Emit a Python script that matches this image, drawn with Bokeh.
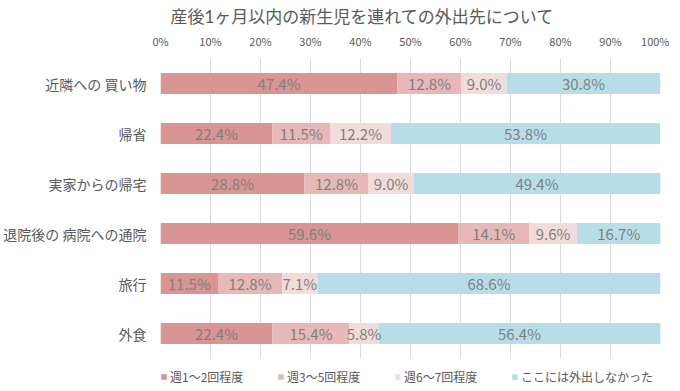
from bokeh.plotting import figure
from bokeh.layouts import column
from bokeh.models import ColumnDataSource, FactorRange, Legend, LegendItem, FixedTicker, CustomJSTickFormatter
from bokeh.core.properties import value
from bokeh.embed import file_html
from bokeh.resources import INLINE

categories = ["近隣への 買い物", "帰省", "実家からの帰宅", "退院後の 病院への通院", "旅行", "外食"]
series = ["週1～2回程度", "週3～5回程度", "週6～7回程度", "ここには外出しなかった"]
s1 = [47.4, 22.4, 28.8, 59.6, 11.5, 22.4]
s2 = [12.8, 11.5, 12.8, 14.1, 12.8, 15.4]
s3 = [9.0, 12.2, 9.0, 9.6, 7.1, 5.8]
s4 = [30.8, 53.8, 49.4, 16.7, 68.6, 56.4]
x_ticks = [0, 10, 20, 30, 40, 50, 60, 70, 80, 90, 100]
title = "産後1ヶ月以内の新生児を連れての外出先について"

colors = ["#D99594", "#E6B9B8", "#F2DCDB", "#B7DEE8"]
FONT = "Noto Sans CJK JP"
keys = ["s1", "s2", "s3", "s4"]
vals = [s1, s2, s3, s4]

data = {"cat": categories}
for k, v in zip(keys, vals):
    data[k] = v
src = ColumnDataSource(data)

p = figure(y_range=FactorRange(factors=list(reversed(categories))), x_range=(0, 100),
           frame_width=500, frame_height=300, min_border_left=155, min_border_right=9,
           min_border_top=0, min_border_bottom=9,
           output_backend="svg", toolbar_location=None, x_axis_location="above")

rs = p.hbar_stack(keys, y="cat", height=0.42, source=src, color=colors, line_color=None)

# labels
left = [0.0] * len(categories)
lx, ly, lt = [], [], []
for v in vals:
    for i, c in enumerate(categories):
        lx.append(left[i] + v[i] / 2)
        ly.append(c)
        lt.append(f"{v[i]:.1f}%")
        left[i] += v[i]
p.text(x=lx, y=ly, text=lt, text_align="center", text_baseline="middle",
       text_font=value(FONT), text_font_size="15px", text_color="#7F7F7F")

p.title.text = title
p.title.align = "left"
p.title.offset = 10
p.title.text_font = "Lato, 'Noto Sans CJK JP'"
p.title.text_font_size = "17px"
p.title.text_font_style = "normal"
p.title.text_color = "#595959"
p.title.standoff = 6

xa = p.xaxis[0]
xa.ticker = FixedTicker(ticks=x_ticks)
xa.formatter = CustomJSTickFormatter(code="return tick.toFixed(0) + '%';")
xa.axis_line_color = None
xa.major_tick_line_color = None
xa.minor_tick_line_color = None
xa.major_tick_out = 0
xa.major_tick_in = 0
xa.minor_tick_out = 0
xa.major_label_text_font = FONT
xa.major_label_text_font_size = "11px"
xa.major_label_text_color = "#595959"
xa.major_label_standoff = 10

ya = p.yaxis[0]
ya.axis_line_color = None
ya.major_tick_line_color = None
ya.minor_tick_line_color = None
ya.major_tick_out = 0
ya.major_tick_in = 0
ya.major_label_text_font = FONT
ya.major_label_text_font_size = "14px"
ya.major_label_text_color = "#595959"
ya.major_label_standoff = 14

p.xgrid.ticker = FixedTicker(ticks=x_ticks)
p.xgrid.grid_line_color = "#D9D9D9"
p.ygrid.grid_line_color = None
p.outline_line_color = None

# legend strip below the chart
lg = figure(width=668, height=19, x_range=(0, 1), y_range=(0, 1), title=None,
            x_axis_type=None, y_axis_type=None, min_border=0,
            min_border_left=0, min_border_right=0, min_border_top=0, min_border_bottom=0,
            output_backend="svg", toolbar_location=None)
lg.outline_line_color = None
lg.grid.visible = False
lrs = [lg.hbar(y=[0.5], left=[0], right=[0], height=0, color=c, line_color=None) for c in colors]

legend = Legend(items=[LegendItem(label=s, renderers=[r]) for s, r in zip(series, lrs)],
                orientation="horizontal", location=(0, 1),
                glyph_width=7, glyph_height=7, label_standoff=3, label_width=107, label_height=12,
                spacing=0, padding=0, margin=0,
                label_text_font=FONT, label_text_font_size="12px", label_text_color="#595959",
                background_fill_alpha=0, border_line_alpha=0)
lg.add_layout(legend, "center")

layout = column(p, lg, spacing=0)
open("out.html", "w").write(file_html(layout, INLINE))
